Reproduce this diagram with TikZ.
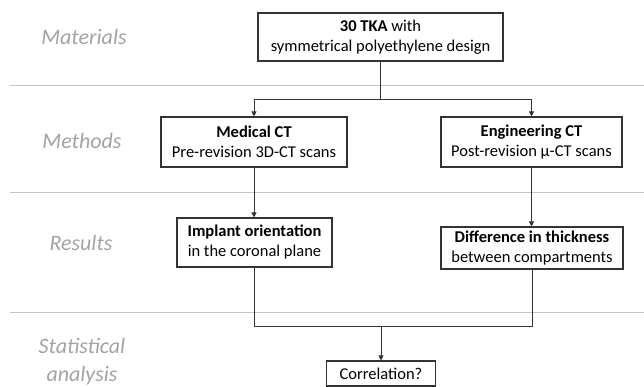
\documentclass[tikz,border=0pt]{standalone}
\usepackage{fontspec}
\setmainfont{Carlito}
\usetikzlibrary{arrows.meta}
\definecolor{labgray}{HTML}{A3A3A3}
\definecolor{sepgray}{HTML}{C4C4C4}
\definecolor{linegray}{HTML}{333333}
\begin{document}
\begin{tikzpicture}[x=1pt,y=-1pt,
  box/.style={draw=linegray, line width=1.1pt, fill=white, inner sep=0pt, align=center,
    font=\fontsize{16.5}{20}\selectfont},
  conn/.style={draw=linegray, line width=0.9pt},
  arr/.style={conn, -{Triangle[length=5pt,width=5pt]}},
  sepline/.style={draw=sepgray, line width=1pt},
  lab/.style={text=labgray, align=center, inner sep=0pt, font=\fontsize{22}{28}\selectfont\itshape}]
\useasboundingbox (0,0) rectangle (644,387);
% separators
\draw[sepline] (10,86) -- (644,86);
\draw[sepline] (10,193) -- (644,193);
\draw[sepline] (10,312) -- (644,312);
% stage labels
\node[lab] (lmat) at (84,37) {Materials};
\node[lab] (lmet) at (82,141) {Methods};
\node[lab] (lres) at (81,243) {Results};
\node[lab] (lsta) at (82,362) {Statistical\\analysis};
% boxes
\node[box, minimum width=245pt, minimum height=48pt] (top) at (380.5,37) {\textbf{30 TKA} with\\symmetrical polyethylene design};
\node[box, minimum width=186pt, minimum height=50pt] (med) at (254,142) {\textbf{Medical CT}\\Pre-revision 3D-CT scans};
\node[box, minimum width=181pt, minimum height=50pt] (eng) at (531.5,142) {\textbf{Engineering CT}\\Post-revision µ-CT scans};
\node[box, minimum width=155pt, minimum height=49pt] (imp) at (254.5,242.5) {\textbf{Implant orientation}\\in the coronal plane};
\node[box, minimum width=182pt, minimum height=42pt] (dif) at (532,248) {\textbf{Difference in thickness}\\between compartments};
\node[box, minimum width=109pt, minimum height=25pt] (cor) at (381,373.5) {Correlation?};
% connectors
\coordinate (j1) at (380.5,99);
\coordinate (j2) at (381,326);
\draw[conn] (top.south) -- (j1);
\draw[arr] (j1) -| (med.north);
\draw[arr] (j1) -| (eng.north);
\draw[arr] (med.south) -- (med.south |- imp.north);
\draw[arr] (eng.south) -- (eng.south |- dif.north);
\draw[conn] (imp.south) |- (j2);
\draw[conn] (dif.south) |- (j2);
\draw[arr] (j2) -- (cor.north);
\end{tikzpicture}
\end{document}
